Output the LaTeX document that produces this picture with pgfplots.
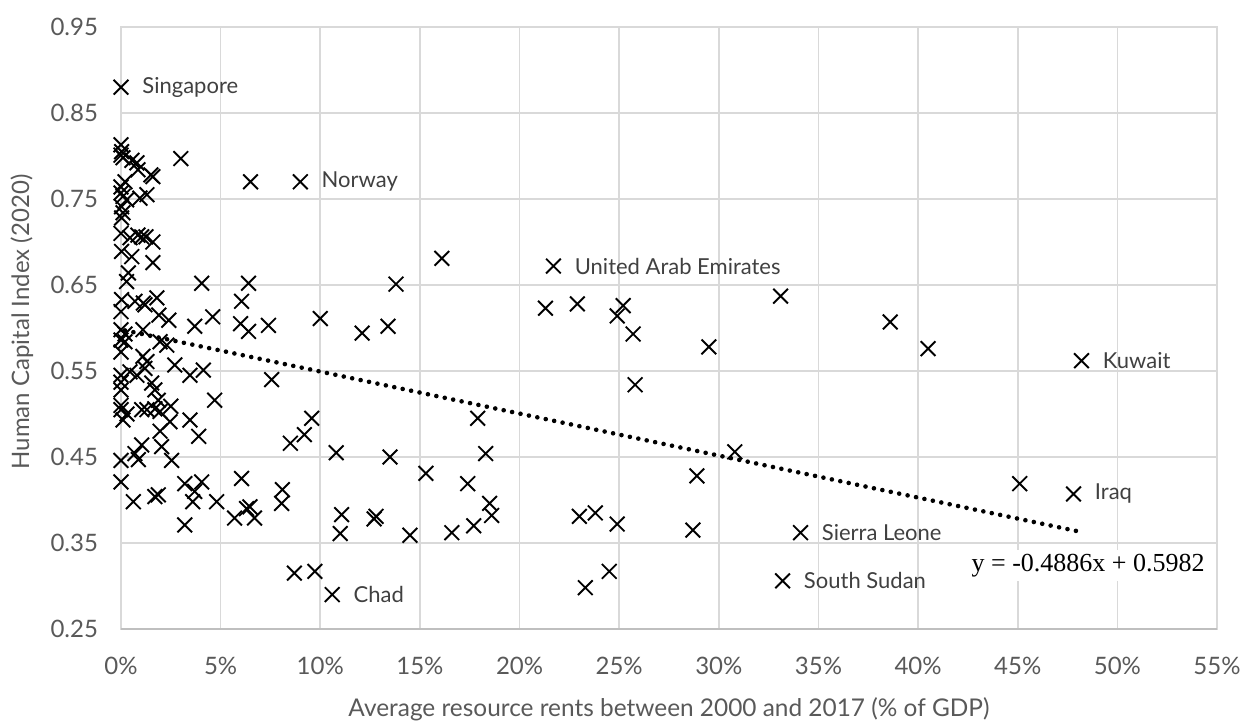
\documentclass[border=0pt]{standalone}
\usepackage{pgfplots}
\pgfplotsset{compat=1.18}
\usepackage{fontspec}
\setmainfont{Lato}
\newfontfamily\eqfont{Liberation Serif}
\definecolor{gridc}{HTML}{D9D9D9}
\definecolor{axc}{HTML}{BFBFBF}
\definecolor{txt}{HTML}{595959}
\definecolor{lbl}{HTML}{404040}
\begin{document}
\begin{tikzpicture}
\begin{axis}[
  name=ax,
  scale only axis, width=548pt, height=301pt,
  xmin=0, xmax=55, ymin=0.25, ymax=0.95,
  xtick={0,5,10,15,20,25,30,35,40,45,50,55},
  ytick={0.25,0.35,0.45,0.55,0.65,0.75,0.85,0.95},
  grid=major, major grid style={gridc, line width=0.8pt},
  axis line style={gridc, line width=0.8pt},
  tick style={draw=none},
  clip=false,
  tick label style={font=\fontsize{12}{14}\selectfont, text=txt},
  xticklabel={\pgfmathprintnumber[assume math mode=true]{\tick}\%},
  every x tick label/.append style={anchor=north, inner sep=0pt, yshift=-14pt},
  every y tick label/.append style={xshift=-8pt},
  yticklabel style={/pgf/number format/.cd, fixed, fixed zerofill, precision=2, assume math mode=true},
  xlabel={Average resource rents between 2000 and 2017 (\% of GDP)},
  ylabel={Human Capital Index (2020)},
  every axis x label/.style={at={([yshift=-40pt]axis description cs:0.5,0)}, anchor=center, font=\fontsize{12.2}{14}\selectfont, text=txt},
  every axis y label/.style={at={([xshift=-49.5pt]axis description cs:0,0.51)}, rotate=90, anchor=center, font=\fontsize{12}{14}\selectfont, text=txt},
]
\draw[axc, line width=0.8pt] (rel axis cs:0,0) -- (rel axis cs:1,0);
\addplot[only marks, mark=x, mark size=5.2pt, mark options={line width=0.95pt, black}] coordinates {
(0.0,0.880) (9.0,0.770) (21.7,0.672) (48.2,0.562) (47.8,0.407) (34.1,0.362) (33.2,0.306) (10.6,0.290)
(0.0,0.813) (0.03,0.805) (0.0,0.801) (0.1,0.798) (0.55,0.795) (0.8,0.792) (0.85,0.784) (1.6,0.776) (1.5,0.778)
(3.0,0.797) (6.5,0.770) (0.2,0.770) (0.0,0.764) (0.0,0.757) (0.1,0.753) (0.28,0.749) (1.3,0.755) (0.95,0.751)
(0.03,0.741) (0.1,0.734) (0.03,0.728) (0.0,0.710) (0.85,0.708) (1.04,0.706) (1.25,0.706) (1.6,0.700) (0.45,0.705)
(0.03,0.689) (0.54,0.683) (1.6,0.676) (0.37,0.664) (0.28,0.654) (4.05,0.652) (6.4,0.652) (6.05,0.631) (0.03,0.633)
(0.7,0.631) (1.12,0.629) (1.8,0.635) (1.2,0.627) (0.0,0.619) (1.9,0.615) (2.4,0.609) (4.6,0.613) (3.7,0.602)
(6.0,0.605) (6.4,0.596) (7.4,0.603) (10.0,0.611) (0.0,0.598) (0.2,0.593) (0.0,0.586) (0.2,0.584) (0.0,0.572)
(1.1,0.598) (1.96,0.584) (2.3,0.580) (1.1,0.567) (1.3,0.561) (1.2,0.553) (0.45,0.549) (0.8,0.545) (0.0,0.545)
(2.7,0.557) (3.46,0.545) (4.13,0.551) (7.56,0.540) (0.0,0.537) (0.0,0.528) (1.54,0.536) (1.7,0.528) (4.7,0.516)
(1.87,0.516) (0.0,0.510) (0.0,0.505) (0.3,0.500) (1.04,0.505) (1.3,0.505) (1.7,0.506) (1.96,0.503) (2.5,0.509)
(0.1,0.493) (2.46,0.491) (3.46,0.493) (1.96,0.480) (3.9,0.474) (9.57,0.495) (9.2,0.476) (8.5,0.466) (1.04,0.464)
(2.04,0.462) (0.7,0.454) (0.0,0.446) (0.87,0.447) (2.54,0.446) (0.0,0.421) (3.2,0.419) (4.05,0.421) (6.05,0.425)
(8.1,0.412) (3.7,0.410) (0.62,0.398) (1.7,0.404) (1.87,0.406) (3.6,0.398) (4.8,0.398) (3.2,0.371) (5.7,0.379)
(6.47,0.392) (6.3,0.390) (6.7,0.379) (8.06,0.396) (8.7,0.315) (9.73,0.317) (11.07,0.383) (11.0,0.361) (12.8,0.381)
(12.7,0.378) (16.1,0.681) (13.8,0.651) (12.1,0.594) (13.4,0.602) (21.3,0.623) (10.8,0.455) (13.5,0.450) (17.9,0.495)
(18.3,0.454) (15.3,0.431) (17.4,0.419) (22.9,0.628) (25.2,0.626) (24.9,0.614) (25.7,0.593) (29.5,0.578) (33.1,0.637)
(38.6,0.607) (40.5,0.576) (25.8,0.534) (30.8,0.456) (28.9,0.428) (23.0,0.381) (23.8,0.385) (24.9,0.372) (28.7,0.365)
(24.5,0.317) (23.3,0.298) (18.5,0.396) (18.6,0.382) (17.7,0.370) (16.6,0.362) (14.5,0.359) (45.1,0.419)
};
\addplot[black, line width=2.3pt, dash pattern=on 0pt off 4.3pt, line cap=round] coordinates {(0.2,0.5972) (48.0,0.3637)};
\begin{scope}[every node/.style={anchor=west, text=lbl, font=\fontsize{11}{13}\selectfont, xshift=10.5pt, inner sep=0pt}]
\node at (axis cs:0.0,0.880) {Singapore};
\node at (axis cs:9.0,0.770) {Norway};
\node at (axis cs:21.7,0.672) {United Arab Emirates};
\node at (axis cs:48.2,0.562) {Kuwait};
\node at (axis cs:47.8,0.407) {Iraq};
\node at (axis cs:34.1,0.362) {Sierra Leone};
\node at (axis cs:33.2,0.306) {South Sudan};
\node at (axis cs:10.6,0.290) {Chad};
\end{scope}
\node[anchor=east, fill=white, inner sep=2pt, font=\eqfont\fontsize{13}{15}\selectfont] at (axis cs:54.6,0.324) {y = -0.4886x + 0.5982};
\end{axis}
\path (ax.south west) ++(-60.5pt,-47.5pt);
\path (ax.north east) ++(13.5pt,13.5pt);
\end{tikzpicture}
\end{document}
